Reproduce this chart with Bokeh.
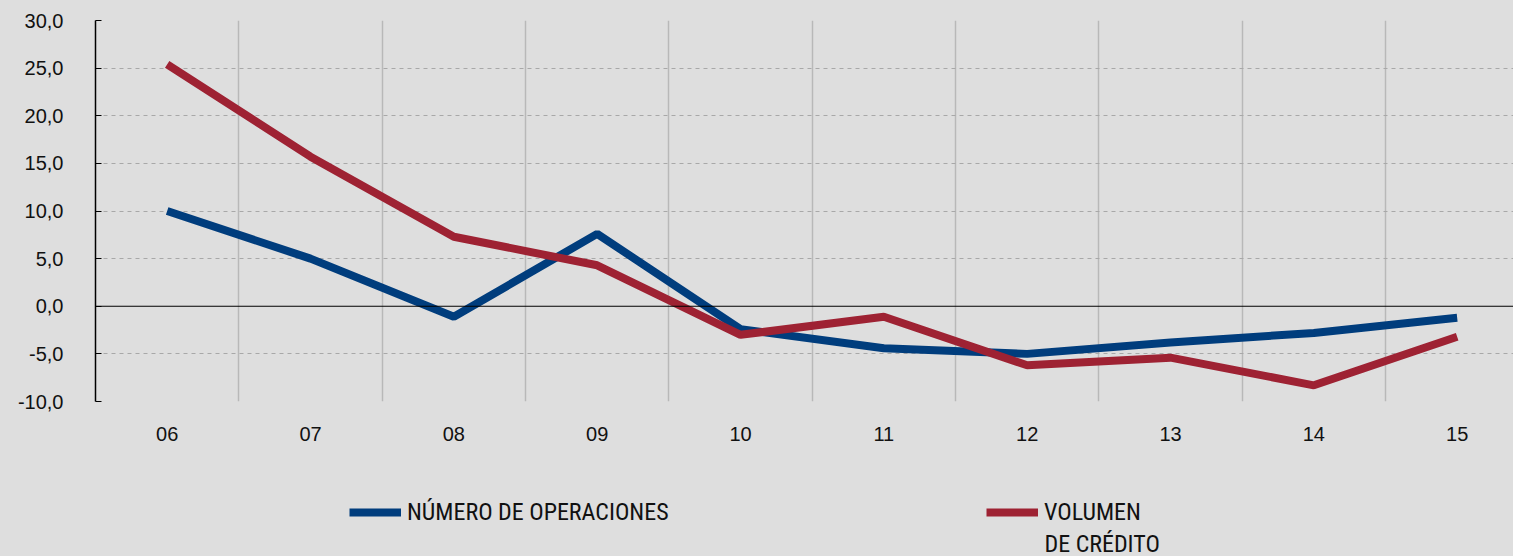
from bokeh.plotting import figure
from bokeh.models import (FixedTicker, Span, Legend, LegendItem, Range1d, Label)
from bokeh.layouts import column
from bokeh.embed import file_html
from bokeh.resources import INLINE

years = ["06", "07", "08", "09", "10", "11", "12", "13", "14", "15"]
numero_operaciones = [10.0, 5.0, -1.1, 7.6, -2.4, -4.4, -5.0, -3.8, -2.8, -1.2]
volumen_credito = [25.4, 15.7, 7.3, 4.3, -3.0, -1.1, -6.2, -5.4, -8.3, -3.2]
y_ticks = [-10, -5, 0, 5, 10, 15, 20, 25, 30]
y_tick_labels = {t: f"{t:.1f}".replace(".", ",") for t in y_ticks}
series_labels = ["NÚMERO DE OPERACIONES", "VOLUMEN", "DE CRÉDITO"]

xs = list(range(len(years)))
BG = "#dedede"
BLUE = "#003d7d"
RED = "#9e2233"
LEG_FONT = "Roboto Condensed, DejaVu Sans Condensed, sans-serif"

p = figure(width=1513, height=460, output_backend="svg", toolbar_location=None,
           x_range=Range1d(-0.5, 9.393), y_range=Range1d(-10, 30),
           min_border_left=95, min_border_top=20, min_border_bottom=59,
           min_border_right=0)
p.background_fill_color = BG
p.border_fill_color = BG
p.outline_line_color = None

# y axis
p.yaxis.ticker = FixedTicker(ticks=y_ticks)
p.yaxis.major_label_overrides = y_tick_labels
p.yaxis.axis_line_color = "black"
p.yaxis.axis_line_width = 1.5
p.yaxis.major_tick_in = 6
p.yaxis.major_tick_out = 0
p.yaxis.major_tick_line_color = "black"
p.yaxis.minor_tick_line_color = None
p.yaxis.major_label_standoff = 32
p.yaxis.major_label_text_font = "Liberation Sans"
p.yaxis.major_label_text_font_size = "20px"
p.yaxis.major_label_text_color = "#111111"

# x axis
p.xaxis.ticker = FixedTicker(ticks=xs)
p.xaxis.major_label_overrides = {i: y for i, y in enumerate(years)}
p.xaxis.axis_line_color = None
p.xaxis.major_tick_line_color = None
p.xaxis.minor_tick_line_color = None
p.xaxis.major_label_standoff = 19
p.xaxis.major_label_text_font = "Liberation Sans"
p.xaxis.major_label_text_font_size = "20px"
p.xaxis.major_label_text_color = "#111111"

# grids
p.ygrid.ticker = FixedTicker(ticks=[t for t in y_ticks if t != 0])
p.ygrid.grid_line_color = "#a8a8a8"
p.ygrid.grid_line_dash = "4 4"
p.ygrid.grid_line_width = 1
p.xgrid.ticker = FixedTicker(ticks=[i + 0.5 for i in xs[:-1]])
p.xgrid.grid_line_color = "#b8b8b8"
p.xgrid.grid_line_width = 1.5

p.add_layout(Span(location=0, dimension="width", line_color="black", line_width=1.2))

p.line(xs, numero_operaciones, line_color=BLUE, line_width=8)
p.line(xs, volumen_credito, line_color=RED, line_width=8)

# legend panel: same series drawn out of view, only their legend entries show
lg = figure(width=1513, height=96, output_backend="svg", toolbar_location=None,
            x_range=Range1d(-0.5, 9.393), y_range=Range1d(1000, 1001),
            min_border_left=95, min_border_right=0, min_border_top=0,
            min_border_bottom=0, x_axis_location=None, y_axis_location=None)
lg.background_fill_color = None
lg.border_fill_color = None
lg.outline_line_color = None
lg.grid.visible = False
lb = lg.line(xs, numero_operaciones, line_color=BLUE, line_width=8)
lr = lg.line(xs, volumen_credito, line_color=RED, line_width=8)

common = dict(background_fill_alpha=0, border_line_alpha=0, glyph_width=52,
              glyph_height=24, label_text_font=LEG_FONT,
              label_text_font_size="24px", label_text_color="#111111",
              label_height=24, padding=0, margin=0, label_standoff=6, spacing=0)
lg.add_layout(Legend(items=[LegendItem(label=series_labels[0], renderers=[lb])],
                     location=(254, 30), **common))
lg.add_layout(Legend(items=[LegendItem(label=series_labels[1], renderers=[lr])],
                     location=(891, 30), **common))
lg.add_layout(Label(x=949, y=13, x_units="screen", y_units="screen",
                    text=series_labels[2], text_font=LEG_FONT,
                    text_font_size="24px", text_color="#111111",
                    text_baseline="middle"))

layout = column(p, lg, spacing=0, styles={"background-color": BG})
open("out.html", "w").write(file_html(layout, INLINE))
